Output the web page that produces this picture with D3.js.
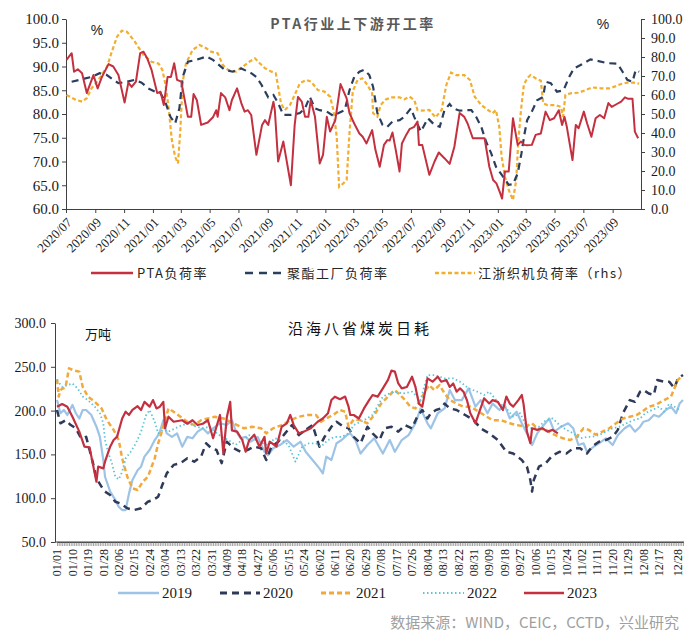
<!DOCTYPE html>
<html><head><meta charset="utf-8">
<script src="https://cdn.jsdelivr.net/npm/d3@7"></script>
<style>body{margin:0;background:#fff}svg{display:block}</style>
</head><body>
<svg id="chart" width="700" height="644"></svg>
<script>
// ===== Top chart data =====
const topTickLabels = ["2020/07","2020/09","2020/11","2021/01","2021/03","2021/05","2021/07","2021/09","2021/11","2022/01","2022/03","2022/05","2022/07","2022/09","2022/11","2023/01","2023/03","2023/05","2023/07","2023/09"];
const leftTicks = [60,65,70,75,80,85,90,95,100];
const rightTicks = [0,10,20,30,40,50,60,70,80,90,100];

const ptaDates = ["2020-07-02","2020-07-13","2020-07-18","2020-07-26","2020-08-04","2020-08-14","2020-08-28","2020-09-06","2020-09-15","2020-09-29","2020-10-09","2020-10-20","2020-11-02","2020-11-10","2020-11-17","2020-11-26","2020-12-05","2020-12-12","2020-12-20","2020-12-29","2021-01-10","2021-01-17","2021-01-24","2021-02-01","2021-02-08","2021-02-15","2021-02-21","2021-03-02","2021-03-16","2021-03-23","2021-03-28","2021-04-04","2021-04-13","2021-04-27","2021-05-08","2021-05-15","2021-05-18","2021-05-25","2021-06-03","2021-06-12","2021-06-17","2021-06-28","2021-07-07","2021-07-14","2021-07-21","2021-07-28","2021-08-08","2021-08-20","2021-08-26","2021-09-02","2021-09-13","2021-09-16","2021-09-23","2021-10-04","2021-10-20","2021-10-28","2021-11-04","2021-11-12","2021-11-19","2021-11-26","2021-12-01","2021-12-10","2021-12-20","2021-12-27","2022-01-04","2022-01-11","2022-01-22","2022-02-02","2022-02-15","2022-02-21","2022-03-03","2022-03-14","2022-03-21","2022-03-29","2022-04-10","2022-04-17","2022-04-26","2022-05-05","2022-05-12","2022-05-17","2022-05-23","2022-05-30","2022-06-07","2022-06-12","2022-06-21","2022-06-28","2022-07-08","2022-07-15","2022-07-18","2022-07-25","2022-08-09","2022-08-20","2022-08-29","2022-09-10","2022-09-21","2022-10-01","2022-10-12","2022-10-22","2022-10-29","2022-11-09","2022-11-27","2022-12-04","2022-12-14","2022-12-22","2022-12-29","2023-01-05","2023-01-10","2023-01-16","2023-01-24","2023-02-02","2023-02-12","2023-02-19","2023-02-26","2023-03-04","2023-03-14","2023-03-22","2023-04-02","2023-04-12","2023-04-21","2023-04-30","2023-05-10","2023-05-17","2023-05-22","2023-05-27","2023-06-08","2023-06-15","2023-06-21","2023-07-02","2023-07-09","2023-07-18","2023-07-27","2023-08-05","2023-08-14","2023-08-23","2023-08-30","2023-09-08","2023-09-19","2023-09-27","2023-10-04","2023-10-13","2023-10-18","2023-10-25"];
const ptaValues = [91.4,92.8,88.9,89.4,88.6,84.4,88.2,85.4,87.8,90.5,90,88.2,82.4,86.6,85.7,86.8,92.8,93.1,91.7,89.3,84.4,84.7,81.9,87.8,87.8,90.7,87.2,86.8,79.4,79.4,84.2,82.9,77.7,78.2,79.3,80.8,79.4,84.4,83.5,80.8,82.9,85.4,82.3,80.5,80.8,79.8,71.4,77.7,78.7,77.7,82.6,80.8,70,74.2,65,77.7,83.6,82.6,79.4,79.4,82.9,79.4,69.6,71.4,79.4,76.3,78.7,86.3,83.3,80.2,78,75.9,75.2,73.8,76.6,72.4,68.9,73.5,74.5,74.4,76.1,72.4,67.9,73.8,75.6,76.8,77.3,78.4,73.5,73.5,67.2,70,71.9,70.7,69.5,73.1,80.2,79.4,78,74.9,74.9,74.9,68.9,66.1,65.4,63.6,62.2,67.9,67.9,79.1,73.5,74.2,73.5,73.4,73.5,75.6,75.9,80.5,78.7,79.1,80.8,77.7,79.4,77.3,70.3,77.7,77,80.5,78,75.2,79.1,79.8,79.1,82.3,81.5,82,82.6,83.5,83.2,83.2,76.3,74.9];

const polyDates = ["2020-07-13","2020-07-30","2020-08-24","2020-09-10","2020-09-24","2020-10-09","2020-10-20","2020-11-07","2020-11-24","2020-12-08","2020-12-22","2021-01-06","2021-01-17","2021-01-27","2021-02-07","2021-02-17","2021-02-26","2021-03-05","2021-03-16","2021-04-03","2021-04-24","2021-05-08","2021-06-02","2021-06-19","2021-07-07","2021-07-28","2021-08-08","2021-08-19","2021-09-02","2021-09-13","2021-09-23","2021-10-04","2021-10-21","2021-11-08","2021-11-19","2021-11-29","2021-12-10","2021-12-20","2022-01-04","2022-01-18","2022-01-29","2022-02-11","2022-02-21","2022-03-03","2022-03-14","2022-03-24","2022-04-04","2022-04-12","2022-04-21","2022-05-02","2022-05-12","2022-05-23","2022-06-07","2022-06-17","2022-07-01","2022-07-08","2022-07-22","2022-08-06","2022-08-20","2022-08-31","2022-09-10","2022-09-21","2022-09-28","2022-10-12","2022-10-26","2022-11-06","2022-11-16","2022-11-27","2022-12-07","2022-12-18","2022-12-28","2023-01-12","2023-01-24","2023-02-02","2023-02-12","2023-02-20","2023-02-26","2023-03-04","2023-03-14","2023-03-25","2023-04-07","2023-04-12","2023-04-23","2023-05-06","2023-05-20","2023-06-01","2023-06-11","2023-06-25","2023-07-16","2023-07-30","2023-08-21","2023-09-11","2023-09-22","2023-10-02","2023-10-13","2023-10-20","2023-10-27"];
const polyValues = [86.8,87.2,87.8,88.6,88.3,87.2,86.5,86.8,87.2,86.6,85.4,84.7,84.4,82.6,79.4,78,81.2,87.8,91,91.4,92.1,91.4,89.3,88.9,89.6,88.6,87.8,86.1,83.5,84,82.3,79.8,79.8,80.2,81.2,83.6,81.2,80.8,80.5,79.6,80.2,80.8,85,87.8,88.9,89.3,88.2,85.7,80.2,77.7,77.3,78.4,78.7,79.4,81.2,79.4,76.3,79.1,77.7,77.3,80.8,82.1,81.2,80.7,80.8,80.8,79.4,77.3,74.2,71.7,68.9,66.8,65.1,65.2,67.5,71.7,75.6,78.7,80.5,82.9,83.6,86.8,86.5,84.7,85,87.8,89.6,90.3,91.5,91.2,90.7,90.6,88.9,87.2,86.8,89.3,88.9];

const loomDates = ["2020-07-02","2020-07-20","2020-08-04","2020-08-14","2020-08-24","2020-09-05","2020-09-12","2020-09-26","2020-10-06","2020-10-17","2020-10-27","2020-11-07","2020-11-24","2020-12-12","2020-12-29","2021-01-13","2021-01-21","2021-01-27","2021-02-03","2021-02-10","2021-02-17","2021-02-23","2021-02-28","2021-03-05","2021-03-12","2021-03-26","2021-04-10","2021-04-24","2021-05-04","2021-05-18","2021-05-29","2021-06-09","2021-06-26","2021-07-10","2021-07-24","2021-08-05","2021-08-15","2021-08-26","2021-09-09","2021-09-18","2021-09-23","2021-09-29","2021-10-07","2021-10-18","2021-10-28","2021-11-08","2021-11-22","2021-12-02","2021-12-16","2021-12-30","2022-01-11","2022-01-18","2022-01-25","2022-01-30","2022-02-08","2022-02-15","2022-02-21","2022-02-28","2022-03-10","2022-03-20","2022-03-31","2022-04-10","2022-04-12","2022-04-21","2022-04-28","2022-05-09","2022-05-23","2022-06-07","2022-06-17","2022-06-28","2022-07-08","2022-07-15","2022-07-25","2022-08-09","2022-08-22","2022-09-04","2022-09-14","2022-09-24","2022-10-05","2022-10-22","2022-11-03","2022-11-13","2022-11-27","2022-12-11","2022-12-21","2022-12-28","2023-01-04","2023-01-09","2023-01-16","2023-01-24","2023-02-02","2023-02-09","2023-02-13","2023-02-19","2023-02-25","2023-03-04","2023-03-11","2023-03-22","2023-04-02","2023-04-07","2023-04-16","2023-05-03","2023-05-14","2023-05-19","2023-05-24","2023-06-04","2023-06-21","2023-07-06","2023-07-20","2023-08-07","2023-08-25","2023-09-05","2023-09-19","2023-10-02","2023-10-16","2023-10-27"];
const loomValues = [60,57.7,56.5,58.3,63.5,67,69.6,74.9,82.8,90.7,93.8,93.3,88,81,77.5,76.5,73.2,66.2,53.8,36.3,27.5,24,41.6,67,76.7,83.7,86.3,84.6,82.8,82,75.8,73.2,72.3,74.9,77.5,79.3,76.7,74.1,72.3,71.4,64.4,55.6,52.1,54.7,60,66.2,67.9,67,62.6,61.8,59.1,52.1,38,11.7,13.5,15.3,40,62,67.9,68.8,65.3,60.9,50.4,48.6,54.7,57.7,58.8,58.8,57.7,59.1,57.4,52.1,51.8,52.1,48.2,52.1,65.3,71.8,70.5,70.5,67.9,59.1,54.7,52.1,50.4,52.1,43.3,27.5,17,10,4.7,15.3,34.6,52.1,65.3,68.8,70.5,68.8,67.5,55.6,54.7,54.7,53.8,48.6,60,60.9,61.2,62.6,64,63.5,63.5,64.4,65.8,66.5,66.5,66];

// ===== Bottom chart data (day of year, 0 = 01/01) =====
const bottomTickLabels = ["01/01","01/10","01/19","01/28","02/06","02/15","02/24","03/04","03/13","03/22","03/31","04/09","04/18","04/27","05/06","05/15","05/24","06/02","06/11","06/20","06/29","07/08","07/17","07/26","08/04","08/13","08/22","08/31","09/09","09/18","09/27","10/06","10/15","10/24","11/02","11/11","11/20","11/29","12/08","12/17","12/28"];
const bottomYTicks = [50,100,150,200,250,300];

const days2019 = [0,2,4,6,9,11,13,15,17,20,23,25,27,28,31,34,36,38,40,42,44,47,49,51,54,57,59,60,62,64,67,70,73,76,79,82,85,88,91,95,99,102,104,107,110,113,117,121,123,126,130,134,138,142,145,149,153,155,157,160,163,166,169,171,174,177,181,185,190,194,197,201,205,209,212,216,218,222,226,229,232,236,240,244,247,251,254,258,261,264,268,271,274,277,280,283,287,290,294,298,301,304,307,309,313,316,320,324,327,331,334,337,340,342,345,348,351,355,358,361,363,365];
const vals2019 = [212,197,200.7,195,206.5,197,191,200.7,200.7,195,181.6,170,143.6,124.5,107.5,98,90.3,86.5,86.5,105.5,120.7,132,136,147.4,155,166.4,172,176,189,174,170,174,158.8,170,168.4,176,179.8,174,179.8,185.5,183.5,189,178,168.4,170,164.5,170,153,149,157,160.7,166.4,158.8,164.5,153,143.6,134,128.3,147.4,143.6,162.7,166.4,172,174,166.4,151,160.7,168.4,151,166.4,153,166.4,172,185.5,202.5,185.5,179.8,197,202.5,223.5,212,212,225.4,204.5,212,197,208,200.7,206.5,191,198.7,185.5,174,160.7,174,181.6,191,176,181.6,185.5,179.8,160.7,162.7,153,158.8,162.7,168.4,160.7,172,179.8,183.5,176,181.6,187.3,189,195,193,200.7,204.5,197,208,212];

const days2020 = [0,2,5,8,11,14,17,19,21,23,26,28,31,34,37,41,45,49,53,56,59,61,64,68,72,76,80,84,87,90,93,96,99,103,107,111,115,119,122,125,129,133,137,141,145,149,153,156,160,163,167,170,173,177,181,184,188,191,195,199,203,207,210,213,216,218,221,224,226,229,233,238,243,247,252,257,262,266,271,274,276,277,278,281,285,289,293,297,301,305,309,312,316,320,324,327,330,334,337,340,342,345,348,350,354,357,360,362,365];
const vals2020 = [200.7,185.5,189,183.5,179.8,168.4,170,155,140,122.6,113,107.5,103.6,96,94,88.5,86.5,88.5,96,98,101.7,113,128.3,138,140,145.5,141.7,147.4,162.7,157,155,140,164.5,157,153,155,158.8,157,143.6,158.8,164.5,174,183.5,172,178,183.5,158.8,170,181.6,187.3,181.6,179.8,170,162.7,181.6,174,166.4,179.8,181.6,176,183.5,179.8,193,200.7,191,197,200.7,202.5,208,202.5,200.7,195,189,179.8,174,166.4,153,151,143.6,136,120.7,107.5,120.7,136,140,149,153,151,157,157,151,158.8,164.5,166.4,170,178,197,212,210,221.6,223.5,219.6,217.8,235,233,233,225.4,236.8,240.6];

const days2021 = [0,1,2,5,7,10,13,15,18,22,26,29,33,36,38,41,44,47,50,53,57,59,62,65,68,72,76,80,84,88,92,97,101,105,109,114,119,122,126,131,136,141,146,151,154,157,161,165,168,170,173,177,181,185,189,193,197,200,203,206,209,212,215,217,220,223,226,229,233,237,241,246,249,254,259,264,268,273,277,280,285,290,295,299,303,307,310,314,318,322,326,330,334,338,341,345,349,354,358,362,364];
const vals2021 = [236,216,223.5,227,248.3,245.7,244.5,227,216,210,202.5,189.3,178,166.4,145.5,124.5,111.3,109.4,118.8,124.5,145.5,162.7,181.6,202.5,198.7,193,187.3,183.5,189,191,193,191,187.3,183.5,179.8,181.6,179.8,174,179.8,183.5,189,193,195,195,187.3,191,195,200.7,198.7,181.6,190,189,185.5,195,208,216,223.5,217.8,212,204.5,202.5,212,223.5,229,223.5,229,219.6,212,208,204.5,204.5,198.7,195,189,189,185.5,183.5,181.6,185.5,179.8,178,172.5,168.4,166.4,170,179.8,178,172.5,176,179.8,185.5,191,193,195,198.7,204.5,206.5,212,216,235,238.7];

const days2022 = [0,3,6,9,12,15,18,22,25,27,28,30,32,34,36,38,40,43,46,49,52,54,57,59,62,65,69,73,77,81,85,89,92,96,100,104,108,112,116,120,123,127,131,135,139,143,147,151,154,158,162,166,170,173,179,184,190,196,202,207,212,216,220,226,231,235,240,245,249,252,257,262,266,270,274,277,281,285,289,293,297,301,305,309,312,316,320,324,328,332,336,340,343,347,351,354,357,360,363];
const vals2022 = [235,227,229,231,225.4,216,212,204.5,197,185.5,166.4,151,140,124.5,121.5,130.2,145.5,153,162.7,176,195,200.7,187.3,174,178,176,179.8,183.5,185.5,181.6,179.8,181.6,176,170,166.4,160.7,166.4,172,166.4,162.7,160.7,168.4,166.4,160.7,141.7,158.8,162.7,162.7,158.8,166.4,170,170,174,183.5,189,195,216,221.6,219.6,221.6,212,240.6,240.6,236.8,236.8,233,225.4,221.6,217.8,221.6,210,202.5,193,197,181.6,179.8,181.6,189,191,183.5,178,174,168.4,170,170,172,176,179.8,181.6,185.5,189,191,197,200.7,204.5,198.7,208,204.5,200.7];

const days2023 = [0,3,6,9,13,16,19,21,23,24,27,28,31,33,35,38,40,42,44,47,49,51,54,56,58,60,62,63,65,68,73,76,79,82,85,88,91,95,97,99,101,102,105,108,110,112,115,118,121,122,124,128,131,134,136,138,141,144,148,152,155,158,160,162,165,168,170,171,173,176,179,182,184,187,190,193,195,197,199,201,204,207,209,211,213,215,216,219,222,224,227,229,231,233,235,237,239,241,244,246,249,252,254,257,260,262,264,266,269,271,272,274,276,277,280,283,286,289,292];
const vals2023 = [204.5,207.5,204.5,193,176,158.8,158,138,118.8,136,134,141.7,158.8,166.4,170,191,198.7,195,200.7,205,200.7,210,204.5,212,202.5,204.5,210,179.8,193,187.3,189,185,189,183.5,185,189,168.4,195,151,192,210,177.4,176,166.4,153,166,172.5,158.8,170,151,164.5,159,181.6,185.5,195,183.6,174,176,179.8,187.3,191,197,212,215.9,213,216,204.5,195,195,191,202.5,212,217.8,216,225.4,235,245.6,244.5,231,225.4,227,238.7,227,208,204.5,225.4,236.8,233,238.7,233,235,227,231,221.6,225.4,221.6,212,197,185.5,197,214,208.2,212,210,200.7,216,208,204.5,212,217.8,208,176,162.7,179.8,178,179.8,176,178,174];

// ===== Rendering =====
const svg = d3.select("#chart");
const SERIF = "'Liberation Serif','Times New Roman',serif";
const CJK = "'Noto Sans CJK SC','Noto Sans',sans-serif";
const AX = "#404040";

function styleAxis(g, size) {
  g.select(".domain").attr("stroke", AX).attr("stroke-width", 1);
  g.selectAll(".tick line").attr("stroke", AX);
  g.selectAll(".tick text").attr("fill", "#1a1a1a").style("font-family", SERIF).style("font-size", size + "px");
}

// ---------- Top chart ----------
const parseDay = d3.timeParse("%Y-%m-%d");
const parseMonth = d3.timeParse("%Y/%m");
const xT = d3.scaleTime().domain([new Date(2020, 6, 1), new Date(2023, 9, 31)]).range([66, 641]);
const yL = d3.scaleLinear().domain([60, 100]).range([209, 19]);
const yR = d3.scaleLinear().domain([0, 100]).range([209, 19]);

const gt = svg.append("g");
gt.append("g").attr("transform", "translate(66,0)")
  .call(d3.axisLeft(yL).tickValues(leftTicks).tickFormat(d3.format(".1f")).tickSize(4).tickSizeOuter(0).tickPadding(3))
  .call(g => styleAxis(g, 15));
gt.append("g").attr("transform", "translate(641,0)")
  .call(d3.axisRight(yR).tickValues(rightTicks).tickFormat(d3.format(".1f")).tickSize(4).tickSizeOuter(0).tickPadding(6))
  .call(g => styleAxis(g, 14));
const xAxT = gt.append("g").attr("transform", "translate(0,209)")
  .call(d3.axisBottom(xT).tickValues(topTickLabels.map(parseMonth)).tickFormat(d3.timeFormat("%Y/%m")).tickSize(4).tickSizeOuter(0))
  .call(g => styleAxis(g, 13));
xAxT.selectAll(".tick text")
  .attr("x", 0).attr("y", 0).attr("dy", "0.35em")
  .attr("transform", "translate(3,11) rotate(-45)")
  .style("text-anchor", "end");

const lineL = d3.line().x(d => xT(d[0])).y(d => yL(d[1]));
const lineR = d3.line().x(d => xT(d[0])).y(d => yR(d[1]));
const zipD = (ds, vs) => d3.zip(ds.map(parseDay), vs);

gt.append("path").datum(zipD(loomDates, loomValues)).attr("d", lineR)
  .attr("fill", "none").attr("stroke", "#F2AE2E").attr("stroke-width", 2.2).attr("stroke-dasharray", "4,2.5");
gt.append("path").datum(zipD(polyDates, polyValues)).attr("d", lineL)
  .attr("fill", "none").attr("stroke", "#2C3E5E").attr("stroke-width", 2.2).attr("stroke-dasharray", "7,5");
gt.append("path").datum(zipD(ptaDates, ptaValues)).attr("d", lineL)
  .attr("fill", "none").attr("stroke", "#C3303F").attr("stroke-width", 2).attr("stroke-linejoin", "round");

gt.append("text").attr("x", 353).attr("y", 29).attr("text-anchor", "middle")
  .style("font-family", CJK).style("font-size", "14px").style("font-weight", "bold").style("letter-spacing", "2.5px")
  .attr("fill", "#595959").text("PTA行业上下游开工率");
gt.append("text").attr("x", 97).attr("y", 35).attr("text-anchor", "middle")
  .style("font-family", "'Liberation Sans',Arial,sans-serif").style("font-size", "14px").attr("fill", "#1a1a1a").text("%");
gt.append("text").attr("x", 603).attr("y", 29).attr("text-anchor", "middle")
  .style("font-family", "'Liberation Sans',Arial,sans-serif").style("font-size", "14px").attr("fill", "#1a1a1a").text("%");

const topLegend = [
  {label: "PTA负荷率", color: "#C3303F", dash: null, x1: 91, x2: 133, tx: 137},
  {label: "聚酯工厂负荷率", color: "#2C3E5E", dash: "8,6", x1: 245, x2: 284, tx: 287},
  {label: "江浙织机负荷率（rhs）", color: "#F2AE2E", dash: "4,2.5", x1: 435, x2: 475, tx: 478}
];
const tl = gt.append("g");
topLegend.forEach(d => {
  tl.append("line").attr("x1", d.x1).attr("x2", d.x2).attr("y1", 273).attr("y2", 273)
    .attr("stroke", d.color).attr("stroke-width", 2.5).attr("stroke-dasharray", d.dash);
  tl.append("text").attr("x", d.tx).attr("y", 273).attr("dy", "0.35em")
    .style("font-family", CJK).style("font-size", "13px").style("letter-spacing", "1.5px")
    .attr("fill", "#262626").text(d.label);
});

// ---------- Bottom chart ----------
const xB = d3.scaleLinear().domain([0, 365]).range([57, 683]);
const yB = d3.scaleLinear().domain([50, 300]).range([542, 323]);
const gb = svg.append("g");

gb.append("g").attr("transform", "translate(55,0)")
  .call(d3.axisLeft(yB).tickValues(bottomYTicks).tickFormat(d3.format(".1f")).tickSize(4).tickSizeOuter(0).tickPadding(5))
  .call(g => styleAxis(g, 14));

// daily category ticks
gb.append("g").attr("transform", "translate(0,542)")
  .call(d3.axisBottom(xB).tickValues(d3.range(0, 366)).tickFormat("").tickSize(4).tickSizeOuter(0))
  .call(g => { g.select(".domain").attr("stroke", AX); g.selectAll(".tick line").attr("stroke", "#8a8a8a").attr("stroke-width", 0.8); });
gb.append("line").attr("x1", 55).attr("x2", 684).attr("y1", 542).attr("y2", 542).attr("stroke", AX);

const yearStart = new Date(2020, 0, 1);
const parseMD = d3.timeParse("%Y/%m/%d");
gb.append("g").selectAll("text").data(bottomTickLabels).join("text")
  .attr("transform", d => `translate(${xB(d3.timeDay.count(yearStart, parseMD("2020/" + d)))},549) rotate(-90)`)
  .attr("dy", "0.35em").attr("text-anchor", "end")
  .style("font-family", SERIF).style("font-size", "12px").attr("fill", "#1a1a1a")
  .text(d => d);

const lineB = d3.line().x(d => xB(d[0])).y(d => yB(d[1]));
const bottomSeries = [
  {name: "2019", days: days2019, vals: vals2019, color: "#9DC3E6", w: 2.2, dash: null, lx1: 118, lx2: 159, tx: 162},
  {name: "2020", days: days2020, vals: vals2020, color: "#2E3A57", w: 2.5, dash: "7,5", lx1: 220, lx2: 260, tx: 263},
  {name: "2021", days: days2021, vals: vals2021, color: "#F2A93B", w: 2.5, dash: "5,3", lx1: 321, lx2: 353, tx: 356},
  {name: "2022", days: days2022, vals: vals2022, color: "#5CC4D8", w: 1.8, dash: "1.5,2.5", lx1: 423, lx2: 464, tx: 467},
  {name: "2023", days: days2023, vals: vals2023, color: "#C3303F", w: 2.2, dash: null, lx1: 524, lx2: 564, tx: 567}
];
bottomSeries.forEach(s => {
  gb.append("path").datum(d3.zip(s.days, s.vals)).attr("d", lineB)
    .attr("fill", "none").attr("stroke", s.color).attr("stroke-width", s.w)
    .attr("stroke-dasharray", s.dash).attr("stroke-linejoin", "round");
});
bottomSeries.forEach(s => {
  gb.append("line").attr("x1", s.lx1).attr("x2", s.lx2).attr("y1", 593).attr("y2", 593)
    .attr("stroke", s.color).attr("stroke-width", s.w + 0.3).attr("stroke-dasharray", s.dash);
  gb.append("text").attr("x", s.tx).attr("y", 593).attr("dy", "0.35em")
    .style("font-family", SERIF).style("font-size", "15px").attr("fill", "#1a1a1a").text(s.name);
});

gb.append("text").attr("x", 360).attr("y", 334).attr("text-anchor", "middle")
  .style("font-family", CJK).style("font-size", "15px").style("letter-spacing", "3px")
  .attr("fill", "#111").text("沿海八省煤炭日耗");
gb.append("text").attr("x", 85).attr("y", 339)
  .style("font-family", CJK).style("font-size", "13px").attr("fill", "#111").text("万吨");

svg.append("text").attr("x", 679).attr("y", 628).attr("text-anchor", "end")
  .style("font-family", CJK).style("font-size", "15px").attr("fill", "#A0A0A0")
  .text("数据来源：WIND，CEIC，CCTD，兴业研究");
</script>
</body></html>
